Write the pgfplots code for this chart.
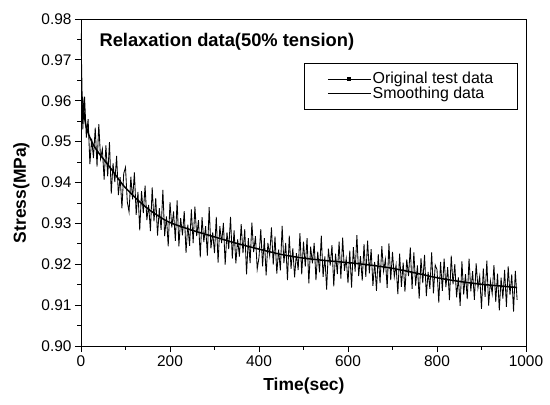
\documentclass[border=0pt]{standalone}
\usepackage{pgfplots}
\pgfplotsset{compat=1.18}
\usepackage{fontspec}
\setmainfont{Liberation Sans}
\begin{document}
\begin{tikzpicture}
\path[use as bounding box] (-81bp,-59bp) rectangle (469bp,346bp);
\begin{axis}[
  scale only axis,
  width=445bp, height=327bp,
  xmin=0, xmax=1000, ymin=0.90, ymax=0.98,
  xtick={0,200,400,600,800,1000},
  ytick={0.90,0.91,0.92,0.93,0.94,0.95,0.96,0.97,0.98},
  minor x tick num=1, minor y tick num=1,
  xtick pos=bottom, ytick pos=left,
  tick align=outside,
  major tick length=6bp, minor tick length=3.5bp,
  axis line style={line width=0.9pt},
  every tick/.style={black, line width=0.8pt},
  scaled y ticks=false,
  /pgf/number format/assume math mode=true,
  /pgf/number format/1000 sep={},
  yticklabel style={/pgf/number format/.cd, fixed, fixed zerofill, precision=2},
  ticklabel style={font=\fontsize{15.5}{16}\selectfont},
  xlabel={\textbf{Time(sec)}},
  ylabel={\textbf{Stress(MPa)}},
  label style={font=\fontsize{17.5}{18}\selectfont},
  xlabel style={at={(axis description cs:0.501,-0.1346)}, anchor=base},
  ylabel style={at={(axis description cs:-0.1236,0.469)}, anchor=base},
  legend style={at={(axis description cs:0.982,0.8654)}, anchor=north east,
    draw=black, line width=0.6pt, font=\fontsize{16}{17}\selectfont,
    row sep=0bp, inner xsep=23bp, inner ysep=8bp,
    nodes={inner xsep=1.5bp, inner ysep=1bp}},
  legend cell align=left,
]
\addplot[black, line width=0.85pt, no marks,
  legend image code/.code={\draw[black, line width=0.5pt] (0bp,0bp) -- (43bp,0bp); \fill[black] (20bp,-1.3bp) rectangle (23bp,1.3bp);}] coordinates {
(0,0.9765) (4,0.9530) (8,0.9610) (12,0.9510) (16,0.9555) (20,0.9445) (24,0.9507) (28,0.9460) (32,0.9534) (36,0.9439)
(40,0.9543) (44,0.9458) (48,0.9482) (52,0.9407) (56,0.9491) (60,0.9415) (64,0.9499) (68,0.9373) (72,0.9447) (76,0.9401)
(80,0.9465) (84,0.9369) (88,0.9413) (92,0.9337) (96,0.9422) (100,0.9437) (104,0.9353) (108,0.9328) (112,0.9414) (116,0.9359)
(120,0.9425) (124,0.9321) (128,0.9377) (132,0.9283) (136,0.9379) (140,0.9325) (144,0.9392) (148,0.9308) (152,0.9345) (156,0.9281)
(160,0.9388) (164,0.9305) (168,0.9362) (172,0.9270) (176,0.9337) (180,0.9284) (184,0.9382) (188,0.9269) (192,0.9317) (196,0.9244)
(200,0.9352) (204,0.9290) (208,0.9329) (212,0.9257) (216,0.9356) (220,0.9244) (224,0.9313) (228,0.9271) (232,0.9330) (236,0.9228)
(240,0.9297) (244,0.9245) (248,0.9334) (252,0.9252) (256,0.9341) (260,0.9269) (264,0.9308) (268,0.9217) (272,0.9315) (276,0.9254)
(280,0.9293) (284,0.9221) (288,0.9340) (292,0.9239) (296,0.9278) (300,0.9227) (304,0.9316) (308,0.9204) (312,0.9293) (316,0.9252)
(320,0.9301) (324,0.9199) (328,0.9278) (332,0.9237) (336,0.9316) (340,0.9214) (344,0.9283) (348,0.9202) (352,0.9261) (356,0.9219)
(360,0.9298) (364,0.9227) (368,0.9286) (372,0.9175) (376,0.9264) (380,0.9203) (384,0.9302) (388,0.9230) (392,0.9269) (396,0.9188)
(400,0.9217) (404,0.9286) (408,0.9195) (412,0.9264) (416,0.9173) (420,0.9252) (424,0.9221) (428,0.9290) (432,0.9199) (436,0.9268)
(440,0.9177) (444,0.9236) (448,0.9185) (452,0.9294) (456,0.9203) (460,0.9252) (464,0.9161) (468,0.9270) (472,0.9189) (476,0.9239)
(480,0.9168) (484,0.9227) (488,0.9186) (492,0.9276) (496,0.9175) (500,0.9255) (504,0.9194) (508,0.9264) (512,0.9153) (516,0.9243)
(520,0.9202) (524,0.9252) (528,0.9161) (532,0.9231) (536,0.9180) (540,0.9270) (544,0.9169) (548,0.9219) (552,0.9138) (556,0.9238)
(560,0.9197) (564,0.9247) (568,0.9146) (572,0.9226) (576,0.9176) (580,0.9255) (584,0.9165) (588,0.9265) (592,0.9184) (596,0.9214)
(600,0.9154) (604,0.9233) (608,0.9143) (612,0.9242) (616,0.9182) (620,0.9271) (624,0.9171) (628,0.9220) (632,0.9160) (636,0.9249)
(640,0.9169) (644,0.9258) (648,0.9178) (652,0.9237) (656,0.9147) (660,0.9206) (664,0.9135) (668,0.9225) (672,0.9154) (676,0.9244)
(680,0.9183) (684,0.9212) (688,0.9142) (692,0.9251) (696,0.9161) (700,0.9230) (704,0.9169) (708,0.9198) (712,0.9127) (716,0.9226)
(720,0.9145) (724,0.9204) (728,0.9133) (732,0.9212) (736,0.9171) (740,0.9241) (744,0.9140) (748,0.9229) (752,0.9148) (756,0.9197)
(760,0.9116) (764,0.9215) (768,0.9154) (772,0.9223) (776,0.9122) (780,0.9181) (784,0.9140) (788,0.9229) (792,0.9129) (796,0.9198)
(800,0.9187) (804,0.9106) (808,0.9206) (812,0.9135) (816,0.9214) (820,0.9144) (824,0.9193) (828,0.9112) (832,0.9221) (836,0.9151)
(840,0.9200) (844,0.9119) (848,0.9168) (852,0.9098) (856,0.9207) (860,0.9126) (864,0.9176) (868,0.9115) (872,0.9214) (876,0.9134)
(880,0.9183) (884,0.9113) (888,0.9202) (892,0.9142) (896,0.9171) (900,0.9091) (904,0.9190) (908,0.9120) (912,0.9209) (916,0.9099)
(920,0.9159) (924,0.9128) (928,0.9198) (932,0.9108) (936,0.9177) (940,0.9087) (944,0.9167) (948,0.9116) (952,0.9186) (956,0.9096)
(960,0.9195) (964,0.9125) (968,0.9175) (972,0.9084) (976,0.9184) (980,0.9113)
};
\addlegendentry{Original test data}
\addplot[black, line width=1.5pt, smooth, no marks,
  legend image code/.code={\draw[black, line width=0.8pt] (0bp,0bp) -- (43bp,0bp);}] coordinates {
(3,0.9610) (10,0.9545) (20,0.9510) (30,0.9488) (40,0.9472) (50,0.9458) (60,0.9444) (70,0.9430) (80,0.9415) (90,0.9400)
(100,0.9387) (120,0.9365) (140,0.9345) (160,0.9328) (180,0.9314) (200,0.9302) (250,0.9283) (300,0.9267) (350,0.9251) (400,0.9237)
(450,0.9224) (500,0.9215) (550,0.9209) (600,0.9204) (650,0.9198) (700,0.9190) (750,0.9179) (800,0.9167) (850,0.9158) (900,0.9151)
(950,0.9146) (980,0.9143)
};
\addlegendentry{Smoothing data}
\node[anchor=base west, font=\bfseries\fontsize{18.4}{19}\selectfont] at (axis description cs:0.0337,0.915) {Relaxation data(50\% tension)};
\end{axis}
\end{tikzpicture}
\end{document}
